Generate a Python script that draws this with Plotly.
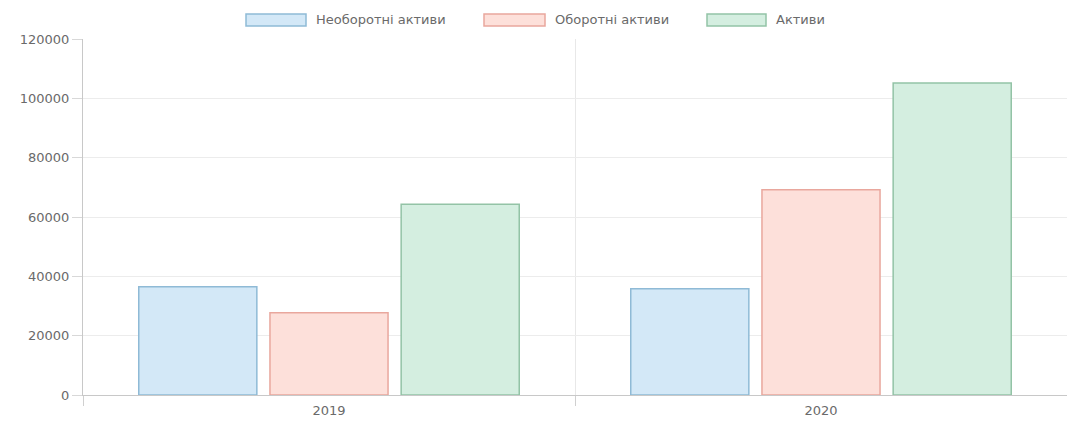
import plotly.graph_objects as go

categories = ["2019", "2020"]
series_names = ["Необоротні активи", "Оборотні активи", "Активи"]
non_current = [36500, 35800]
current = [27700, 69200]
total = [64300, 105200]
y_ticks = [0, 20000, 40000, 60000, 80000, 100000, 120000]

fills = ["#d3e8f7", "#fde0da", "#d4eee0"]
borders = ["#8fbad6", "#e9a79d", "#93c3a6"]
values = [non_current, current, total]

fig = go.Figure()
for name, vals, fc, bc in zip(series_names, values, fills, borders):
    fig.add_trace(go.Bar(x=categories, y=vals, name=name,
                         marker=dict(color=fc, line=dict(color=bc, width=1.5)),
                         showlegend=False))

font = dict(family="DejaVu Sans, Verdana, sans-serif", size=13, color="#6a6a6a")

L, R = 83, 1067
W = R - L
def px(x):
    return (x - L) / W

# manual Chart.js-style legend
legend_items = [(246, 306, 314), (484, 545, 553), (707, 766, 774)]
for (x0, x1, tx), name, fc, bc in zip(legend_items, series_names, fills, borders):
    fig.add_shape(type="rect", xref="paper", yref="paper",
                  x0=px(x0), x1=px(x1), y0=(395-26)/356, y1=(395-14)/356,
                  fillcolor=fc, line=dict(color=bc, width=1.5))
    fig.add_annotation(xref="paper", yref="paper", x=px(tx), y=(395-20)/356,
                       text=name, showarrow=False, xanchor="left", yanchor="middle",
                       font=font)

fig.update_layout(
    width=1067, height=423,
    margin=dict(l=L, r=0, t=39, b=28),
    paper_bgcolor="white", plot_bgcolor="white",
    barmode="group", bargap=0.2, bargroupgap=0.1,
    font=font,
)
fig.update_xaxes(tickson="boundaries", showgrid=True, gridcolor="#e8e8e8",
                 ticks="outside", ticklen=10, tickcolor="#d0d0d0",
                 showline=True, linecolor="#c8c8c8", tickfont=font,
                 ticklabelstandoff=3, range=[-0.5, 1.5])
fig.update_yaxes(range=[0, 120000], tickvals=y_ticks, showgrid=True,
                 gridcolor="#ececec", ticks="outside", ticklen=10,
                 tickcolor="#d8d8d8", showline=True, linecolor="#c8c8c8",
                 zeroline=False, tickfont=font, tickformat="d")

fig.write_html("out.html")
